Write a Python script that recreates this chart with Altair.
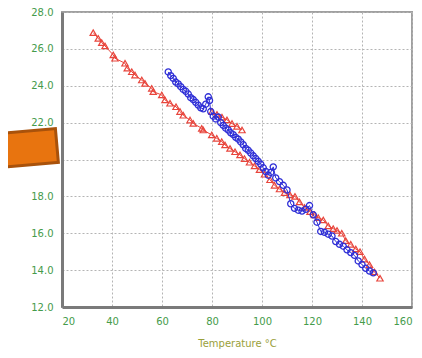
import altair as alt
import pandas as pd

# Blue series (circles)
blue_t = [62.5, 63.5, 64.5, 65.5, 66.5, 67.5, 68.5, 69.5, 70.5, 71.5, 72.5, 73.5, 74.5, 75.5,
          76.5, 77.5, 78.5, 79.0, 79.5, 80.5, 81.5, 82.5, 83.5, 84.5, 85.5, 86.5, 87.5, 88.5,
          89.5, 90.5, 91.5, 92.5, 93.5, 94.5, 95.5, 96.5, 97.5, 98.5, 99.5, 100.5, 101.5,
          102.5, 103.5, 104.5, 105.5, 107, 108.5, 110, 111.5, 113, 114.5, 116, 117.5, 119,
          120.5, 122, 123.5, 125, 126.5, 128, 129.5, 131, 132.5, 134, 135.5, 137, 138.5, 140,
          141.5, 143, 144.5]
blue_v = [24.75, 24.55, 24.4, 24.2, 24.1, 23.95, 23.8, 23.7, 23.55, 23.35, 23.25, 23.1, 22.95,
          22.8, 22.75, 23.0, 23.4, 23.2, 22.6, 22.35, 22.2, 22.3, 22.0, 21.85, 21.7, 21.6,
          21.45, 21.35, 21.2, 21.1, 20.95, 20.8, 20.6, 20.5, 20.35, 20.2, 20.05, 19.9, 19.75,
          19.55, 19.35, 19.15, 19.3, 19.6, 19.0, 18.8, 18.6, 18.35, 17.6, 17.35, 17.25, 17.2,
          17.3, 17.5, 17.0, 16.6, 16.1, 16.05, 15.95, 15.85, 15.55, 15.4, 15.3, 15.1, 14.95,
          14.8, 14.5, 14.3, 14.1, 13.95, 13.85]

# Red series (triangles), main sweep
red_t = [32.5, 34.5, 35.9, 37.2, 40.5, 41.2, 45.2, 46.1, 47.9, 49.2, 51.9, 53.2, 55.9, 56.5,
         59.9, 61.2, 63.2, 65.6, 67.2, 68.5, 71.2, 72.5, 75.9, 76.5, 79.9, 81.9, 83.9, 85.2,
         87.2, 89.2, 91.2, 93, 95, 97, 99, 101, 103.2, 105, 107, 109, 111.2, 113.2, 115, 117,
         119.2, 121, 122.5, 124.5, 126.5, 128.5, 130, 131.9, 133.5, 135.5, 137.5, 139.2, 141,
         143, 145, 147.2]
red_v = [26.88, 26.57, 26.34, 26.16, 25.67, 25.49, 25.22, 24.95, 24.76, 24.58, 24.31, 24.13,
         23.86, 23.68, 23.5, 23.23, 23.05, 22.86, 22.6, 22.4, 22.14, 21.96, 21.69, 21.6, 21.33,
         21.15, 20.97, 20.79, 20.6, 20.42, 20.25, 20.05, 19.85, 19.65, 19.45, 19.2, 18.9, 18.6,
         18.4, 18.2, 18.08, 18.0, 17.7, 17.4, 17.17, 17.0, 16.85, 16.72, 16.4, 16.25, 16.15,
         16.0, 15.6, 15.4, 15.15, 15.0, 14.6, 14.3, 13.9, 13.56]

# Red series, short upper branch
red2_t = [80, 82, 84, 86, 88, 90, 92]
red2_v = [22.6, 22.45, 22.3, 22.15, 21.95, 21.8, 21.6]

x_ticks = [20, 40, 60, 80, 100, 120, 140, 160]
y_ticks = [12, 14, 16, 18, 20, 22, 24, 26, 28]

blue_df = pd.DataFrame({"t": blue_t, "v": blue_v, "i": range(len(blue_t)), "seg": "b"})
red_df = pd.concat([
    pd.DataFrame({"t": red_t, "v": red_v, "i": range(len(red_t)), "seg": "r1"}),
    pd.DataFrame({"t": red2_t, "v": red2_v, "i": range(len(red2_t)), "seg": "r2"}),
])

RED = "#e8453c"
BLUE = "#2f2fd6"

x_enc = alt.X("t:Q", scale=alt.Scale(domain=[20, 160], nice=False),
              axis=alt.Axis(values=x_ticks, title="Temperature °C", format="d"))
y_enc = alt.Y("v:Q", scale=alt.Scale(domain=[12, 28], nice=False),
              axis=alt.Axis(values=y_ticks, title=None, format=".1f"))

red_line = alt.Chart(red_df).mark_line(color=RED, strokeWidth=1).encode(
    x=x_enc, y=y_enc, detail="seg:N", order="i:Q")
red_pts = alt.Chart(red_df).mark_point(shape="triangle-up", filled=False, color=RED,
                                       size=40, strokeWidth=1.2, opacity=1).encode(x=x_enc, y=y_enc)
blue_line = alt.Chart(blue_df).mark_line(color=BLUE, strokeWidth=1).encode(
    x=x_enc, y=y_enc, order="i:Q")
blue_pts = alt.Chart(blue_df).mark_point(shape="circle", filled=False, color=BLUE,
                                         size=38, strokeWidth=1.3, opacity=1).encode(x=x_enc, y=y_enc)

box = alt.Chart(pd.DataFrame({"a": [0]})).mark_point(
    shape="M-1,-0.586L1,-0.586L1,0.586L-1,0.586Z", size=3364, angle=355,
    filled=True, fill="#e8740f", stroke="#a9520b", strokeWidth=3,
    fillOpacity=1, strokeOpacity=1, opacity=1,
).encode(x=alt.value(-34), y=alt.value(136))

chart = alt.layer(red_line, red_pts, blue_line, blue_pts, box).properties(
    width=350, height=295,
    autosize=alt.AutoSizeParams(type="none"),
    padding={"left": 54, "top": 4, "right": 2, "bottom": 43},
    background="white",
).configure_view(
    stroke="#a0a0a0", strokeWidth=2
).configure_axis(
    domain=True, domainColor="#7a7a7a", domainWidth=3,
    ticks=False, grid=True, gridColor="#b4b4b4", gridDash=[2, 2],
    gridWidth=1, labelColor="#459b4b", labelFont="DejaVu Sans", labelFontSize=10,
    labelPadding=9, titleColor="#9aa03a", titleFont="DejaVu Sans", titleFontSize=10,
    titleFontWeight="normal", titlePadding=12,
)

chart.save("out.html", embed_options={"renderer": "svg", "actions": False})
